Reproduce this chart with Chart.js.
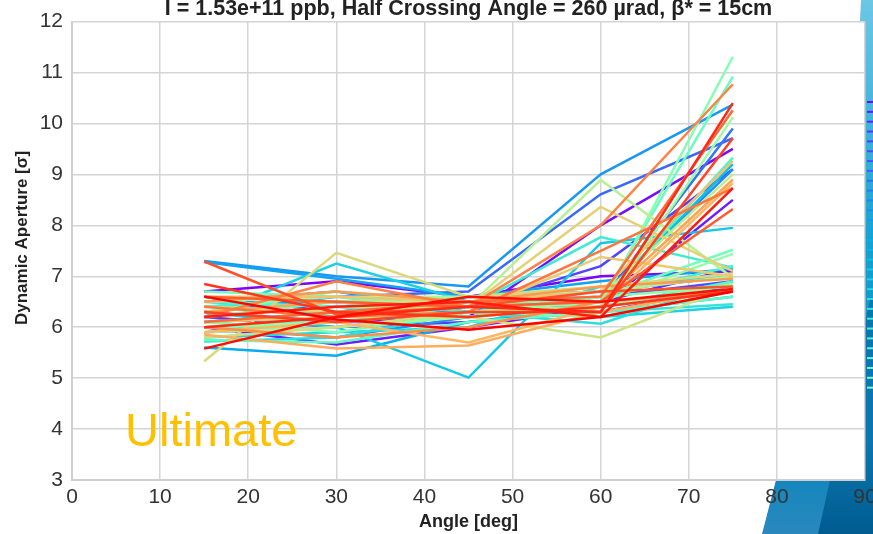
<!DOCTYPE html>
<html><head><meta charset="utf-8">
<script src="https://cdn.jsdelivr.net/npm/chart.js@4.4.0/dist/chart.umd.min.js"></script>
<style>
html,body{margin:0;padding:0;overflow:hidden;background:#fff;width:873px;height:534px}
#wrap{width:885px;height:534px;position:relative}
</style></head>
<body><div id="wrap"><canvas id="c" width="885" height="534"></canvas></div>
<script>
const angles = [15, 30, 45, 60, 75];
const xTickValues = [0, 10, 20, 30, 40, 50, 60, 70, 80, 90];
const yTickValues = [3, 4, 5, 6, 7, 8, 9, 10, 11, 12];
const titleText = 'I = 1.53e+11 ppb, Half Crossing Angle = 260 \u00b5rad, \u03b2* = 15cm';
const xTitle = 'Angle [deg]';
const yTitle = 'Dynamic Aperture [\u03c3]';
const annotation = 'Ultimate';

const seed01 = [6.70, 6.90, 6.60, 7.00, 7.10];
const seed02 = [6.30, 6.10, 6.20, 8.00, 9.50];
const seed03 = [6.00, 5.66, 6.00, 6.40, 8.50];
const seed04 = [6.50, 6.40, 6.30, 6.50, 7.15];
const seed05 = [6.20, 6.00, 6.10, 6.30, 6.80];
const seed06 = [6.40, 6.50, 6.40, 7.20, 9.10];
const seed07 = [6.10, 6.20, 6.50, 6.60, 6.90];
const seed08 = [6.60, 6.30, 6.60, 6.70, 7.00];
const seed09 = [6.30, 6.60, 6.70, 8.61, 9.71];
const seed10 = [5.90, 6.00, 6.30, 6.50, 9.90];
const seed11 = [6.50, 6.70, 6.30, 6.40, 6.75];
const seed12 = [6.00, 5.80, 6.20, 6.60, 9.10];
const seed13 = [7.30, 7.00, 6.80, 9.00, 10.37];
const seed14 = [7.28, 6.95, 6.60, 6.90, 7.15];
const seed15 = [5.60, 5.44, 6.10, 6.40, 6.90];
const seed16 = [6.10, 6.30, 6.40, 6.30, 6.60];
const seed17 = [6.40, 6.50, 6.20, 6.50, 9.20];
const seed18 = [6.30, 6.00, 5.01, 7.65, 7.95];
const seed19 = [6.20, 7.25, 6.50, 6.20, 6.40];
const seed20 = [5.80, 5.90, 6.00, 6.80, 7.00];
const seed21 = [5.72, 5.80, 6.30, 6.07, 6.90];
const seed22 = [6.60, 6.20, 6.50, 6.30, 6.45];
const seed23 = [6.00, 6.10, 6.40, 7.77, 7.17];
const seed24 = [6.40, 6.60, 6.30, 6.60, 7.20];
const seed25 = [5.90, 6.20, 6.40, 6.50, 9.33];
const seed26 = [6.50, 6.40, 6.20, 6.40, 6.90];
const seed27 = [5.75, 5.70, 6.10, 6.30, 6.60];
const seed28 = [6.20, 6.50, 6.60, 6.50, 10.92];
const seed29 = [6.70, 6.60, 6.40, 6.60, 7.52];
const seed30 = [6.10, 5.90, 6.30, 6.20, 6.70];
const seed31 = [6.30, 6.70, 6.50, 6.40, 11.31];
const seed32 = [6.60, 6.50, 6.20, 6.60, 6.80];
const seed33 = [6.00, 6.10, 6.30, 6.50, 7.44];
const seed34 = [6.40, 6.30, 6.50, 6.30, 10.12];
const seed35 = [5.90, 6.00, 6.20, 6.40, 6.85];
const seed36 = [6.50, 6.60, 6.60, 6.70, 7.00];
const seed37 = [6.20, 6.40, 6.40, 8.89, 6.97];
const seed38 = [6.30, 6.50, 6.50, 6.60, 9.00];
const seed39 = [6.00, 6.20, 6.20, 5.80, 6.80];
const seed40 = [5.80, 6.00, 6.30, 6.40, 6.70];
const seed41 = [5.33, 7.46, 6.60, 6.80, 7.05];
const seed42 = [6.40, 6.30, 6.40, 8.36, 7.10];
const seed43 = [6.10, 6.20, 6.30, 7.38, 7.00];
const seed44 = [6.60, 6.60, 6.50, 6.70, 9.26];
const seed45 = [5.90, 6.10, 5.70, 6.40, 8.83];
const seed46 = [5.85, 5.58, 5.64, 6.30, 6.75];
const seed47 = [6.30, 6.50, 6.40, 6.50, 8.90];
const seed48 = [6.50, 6.70, 6.50, 6.80, 6.95];
const seed49 = [6.00, 5.80, 6.00, 6.50, 6.70];
const seed50 = [6.20, 6.90, 6.40, 8.00, 10.77];
const seed51 = [6.40, 6.20, 6.30, 7.50, 8.73];
const seed52 = [6.10, 6.30, 6.50, 6.60, 10.26];
const seed53 = [6.60, 6.50, 6.40, 6.50, 8.32];
const seed54 = [7.29, 6.25, 6.40, 6.70, 6.80];
const seed55 = [6.30, 6.10, 6.30, 6.30, 9.71];
const seed56 = [6.85, 6.30, 6.20, 6.40, 6.70];
const seed57 = [6.00, 6.20, 6.40, 6.30, 10.40];
const seed58 = [6.20, 6.40, 6.50, 6.20, 8.73];
const seed59 = [5.58, 6.20, 6.60, 6.50, 6.75];
const seed60 = [6.60, 6.15, 5.95, 6.20, 6.70];

const seeds = [seed01, seed02, seed03, seed04, seed05, seed06, seed07, seed08, seed09, seed10,
  seed11, seed12, seed13, seed14, seed15, seed16, seed17, seed18, seed19, seed20,
  seed21, seed22, seed23, seed24, seed25, seed26, seed27, seed28, seed29, seed30,
  seed31, seed32, seed33, seed34, seed35, seed36, seed37, seed38, seed39, seed40,
  seed41, seed42, seed43, seed44, seed45, seed46, seed47, seed48, seed49, seed50,
  seed51, seed52, seed53, seed54, seed55, seed56, seed57, seed58, seed59, seed60];

function rainbow(t) {
  const cl = v => Math.max(0, Math.min(1, v));
  const r = cl(Math.abs(2 * t - 0.5));
  const g = cl(Math.sin(Math.PI * t));
  const b = cl(Math.cos(Math.PI * t / 2));
  return 'rgb(' + Math.round(r * 255) + ',' + Math.round(g * 255) + ',' + Math.round(b * 255) + ')';
}

const N = seeds.length;
const datasets = seeds.map((vals, i) => ({
  label: 'Seed ' + (i + 1),
  data: vals.map((v, k) => ({ x: angles[k], y: v })),
  borderColor: rainbow(i / (N - 1)),
  backgroundColor: rainbow(i / (N - 1)),
  borderWidth: 2.5,
  pointRadius: 0,
  tension: 0,
  fill: false,
  order: N - 1 - i
}));

const FONT = "'Liberation Sans', Arial, sans-serif";

const deco = {
  id: 'deco',
  beforeDraw(chart) {
    const ctx = chart.ctx;
    const a = chart.chartArea;
    ctx.save();
    ctx.fillStyle = '#ffffff';
    ctx.fillRect(0, 0, chart.width, chart.height);
    let g = ctx.createLinearGradient(0, 0, 0, 534);
    g.addColorStop(0, '#6cc6e6');
    g.addColorStop(0.45, '#16a2d2');
    g.addColorStop(0.85, '#0a86bd');
    g.addColorStop(1, '#2a88bd');
    ctx.fillStyle = g;
    ctx.beginPath();
    ctx.moveTo(762, 534); ctx.lineTo(776, 480); ctx.lineTo(860, 20); ctx.lineTo(861, 0);
    ctx.lineTo(885, 0); ctx.lineTo(885, 534); ctx.closePath(); ctx.fill();
    let g2 = ctx.createLinearGradient(0, 440, 0, 534);
    g2.addColorStop(0, '#0a78b0');
    g2.addColorStop(1, '#005b90');
    ctx.fillStyle = g2;
    ctx.beginPath();
    ctx.moveTo(818, 534); ctx.lineTo(830, 480); ctx.lineTo(870, 300);
    ctx.lineTo(885, 300); ctx.lineTo(885, 534); ctx.closePath(); ctx.fill();
    ctx.fillStyle = '#ffffff';
    ctx.fillRect(a.left, a.top, a.right - a.left, a.bottom - a.top);
    ctx.restore();
  },
  afterDatasetsDraw(chart) {
    const ctx = chart.ctx;
    ctx.save();
    ctx.fillStyle = '#ffc000';
    ctx.font = '47px ' + FONT;
    ctx.textAlign = 'left';
    ctx.textBaseline = 'alphabetic';
    ctx.fillText(annotation, 125, 446);
    ctx.restore();
  },
  afterDraw(chart) {
    const ctx = chart.ctx;
    const a = chart.chartArea;
    ctx.save();
    ctx.fillStyle = '#222';
    ctx.font = 'bold 21.5px ' + FONT;
    ctx.textAlign = 'center';
    ctx.textBaseline = 'alphabetic';
    ctx.fillText(titleText, (a.left + a.right) / 2, 15);
    ctx.translate(22, 238);
    ctx.rotate(-Math.PI / 2);
    ctx.font = 'bold 17px ' + FONT;
    ctx.textBaseline = 'middle';
    ctx.fillText(yTitle, 0, 0);
    ctx.restore();
    // clipped legend samples at right edge
    ctx.save();
    ctx.lineWidth = 2;
    for (let i = 0; i < 30; i++) {
      const y = 102 + i * 9.85;
      ctx.strokeStyle = rainbow(i / (N - 1));
      ctx.beginPath(); ctx.moveTo(867, y); ctx.lineTo(885, y); ctx.stroke();
    }
    ctx.restore();
  }
};

new Chart(document.getElementById('c'), {
  type: 'line',
  data: { datasets },
  plugins: [deco],
  options: {
    responsive: false,
    animation: false,
    devicePixelRatio: 1,
    layout: { padding: { top: 20, right: 20, left: 0, bottom: 0 } },
    plugins: { legend: { display: false }, tooltip: { enabled: false }, title: { display: false } },
    scales: {
      x: {
        type: 'linear', min: 0, max: 90,
        afterBuildTicks: s => { s.ticks = xTickValues.map(v => ({ value: v })); },
        afterFit: s => { s.height = 54; },
        grid: { color: '#d4d4d4', lineWidth: 1.5, drawTicks: false },
        border: { color: '#cfcfcf', width: 2 },
        ticks: { color: '#333', font: { family: FONT, size: 21 }, padding: 5, maxRotation: 0 },
        title: { display: true, text: xTitle, color: '#222', font: { family: FONT, size: 18, weight: 'bold' }, padding: { top: 0, bottom: 1 } }
      },
      y: {
        type: 'linear', min: 3, max: 12,
        afterBuildTicks: s => { s.ticks = yTickValues.map(v => ({ value: v })); },
        afterFit: s => { s.width = 72; },
        grid: { color: '#d4d4d4', lineWidth: 1.5, drawTicks: false },
        border: { color: '#cfcfcf', width: 2 },
        ticks: { color: '#333', font: { family: FONT, size: 21 }, padding: 9 }
      }
    }
  }
});
</script>
</body></html>
